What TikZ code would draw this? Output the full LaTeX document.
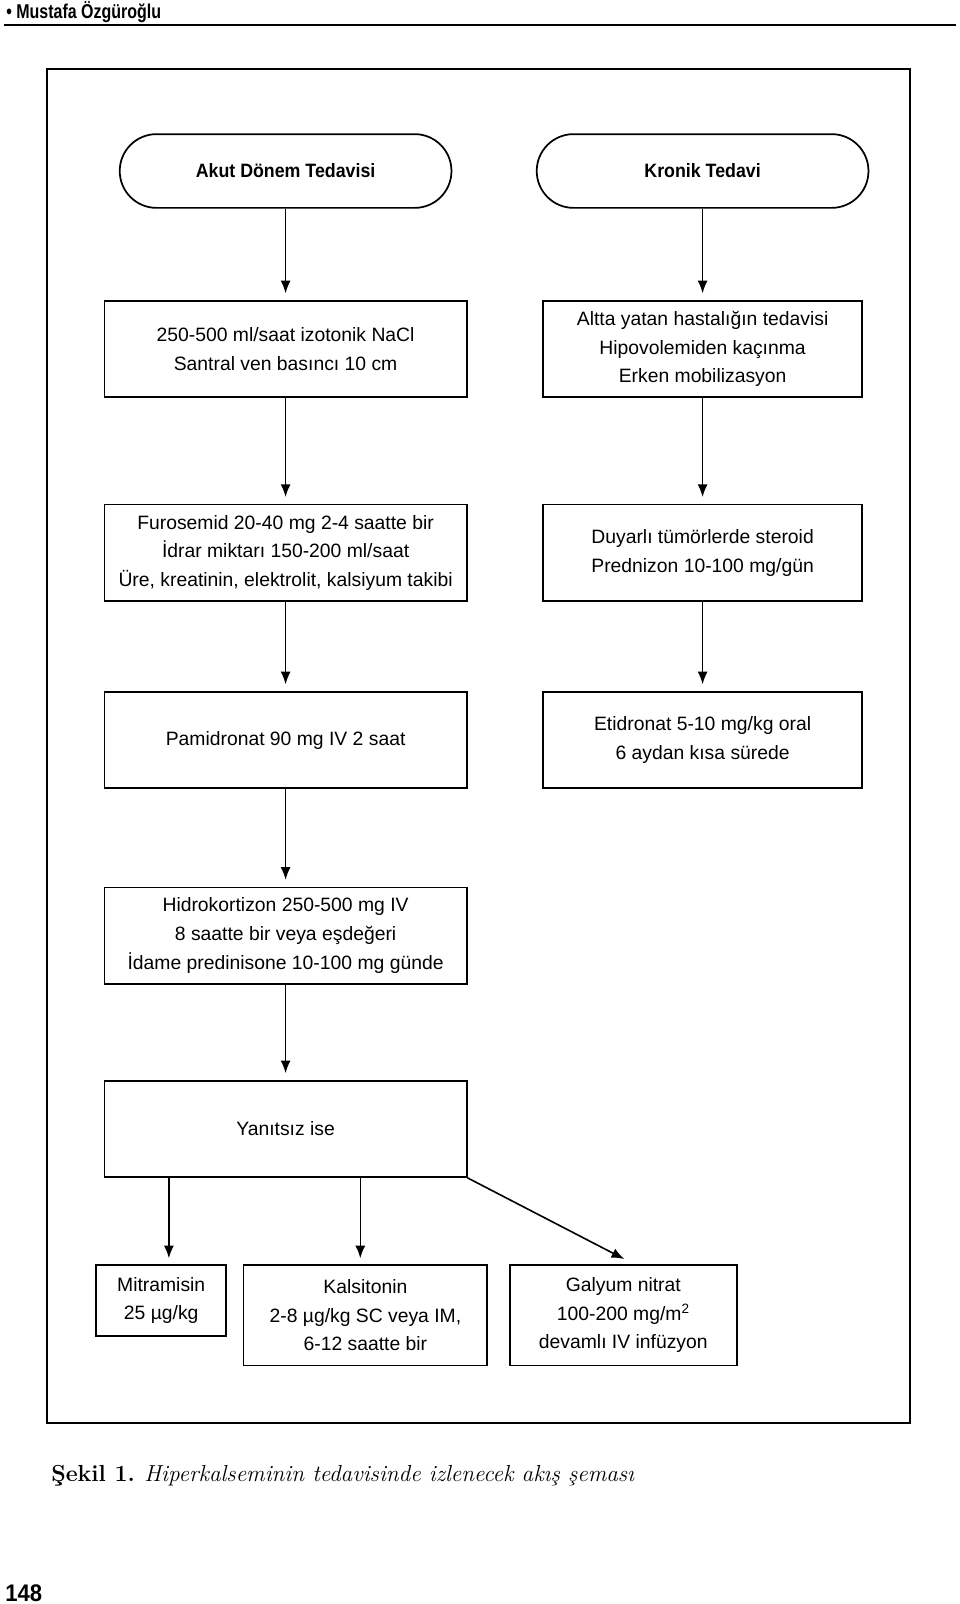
\documentclass[tikz,border=0pt]{standalone}
\usepackage{fontspec}
\newfontfamily\cond{Liberation Sans}
\newfontfamily\condb[FakeStretch=0.92]{Liberation Sans}
\newfontfamily\hdrf[FakeStretch=0.8]{Liberation Sans}
\newfontfamily\pgf[FakeStretch=0.92]{Liberation Sans}
\usetikzlibrary{arrows.meta,calc}
\tikzset{
  box/.style={draw, line width=1.3pt, align=center, inner sep=2pt,
    font=\cond\fontsize{14.5}{21.5}\selectfont},
  lbox/.style={box, minimum width=271.7pt, minimum height=72.2pt},
  rbox/.style={box, minimum width=239.6pt, minimum height=72.2pt},
  term/.style={draw, line width=1.3pt, rounded corners=27.6pt, minimum width=248.8pt,
    minimum height=55.3pt, font=\condb\bfseries\fontsize{14.5}{17}\selectfont},
  arr/.style={line width=1.2pt, -{Latex[length=9.5pt,width=7.5pt]}, shorten >=5pt},
}
\begin{document}
\begin{tikzpicture}[x=0.75pt,y=-0.75pt]
\useasboundingbox (0,0) rectangle (960,1604);
% header
\node[anchor=west, inner sep=0pt, font=\hdrf\bfseries\fontsize{15}{17}\selectfont] (hdr) at (6,12.3) {• Mustafa Özgüroğlu};
\draw[line width=1.5pt] (4,24.6) -- (956,24.6);
% frame
\draw[line width=1.6pt] (47.1,68.6) rectangle (909.9,1422.7);
% terminals
\node[term] (akut) at (285.6,171) {Akut Dönem Tedavisi};
\node[term] (kron) at (702.6,171) {Kronik Tedavi};
% left column
\node[lbox] (l1) at (285.6,349) {250-500 ml/saat izotonik NaCl\\Santral ven basıncı 10 cm};
\node[lbox] (l2) at (285.6,552.7) {Furosemid 20-40 mg 2-4 saatte bir\\İdrar miktarı 150-200 ml/saat\\Üre, kreatinin, elektrolit, kalsiyum takibi};
\node[lbox] (l3) at (285.6,740) {Pamidronat 90 mg IV 2 saat};
\node[lbox] (l4) at (285.6,935.5) {Hidrokortizon 250-500 mg IV\\8 saatte bir veya eşdeğeri\\İdame predinisone 10-100 mg günde};
\node[lbox] (l5) at (285.6,1128.9) {Yanıtsız ise};
% right column
\node[rbox] (r1) at (702.6,349) {Altta yatan hastalığın tedavisi\\Hipovolemiden kaçınma\\Erken mobilizasyon};
\node[rbox] (r2) at (702.6,552.7) {Duyarlı tümörlerde steroid\\Prednizon 10-100 mg/gün};
\node[rbox] (r3) at (702.6,740) {Etidronat 5-10 mg/kg oral\\6 aydan kısa sürede};
% bottom row
\node[box, minimum width=97.5pt, minimum height=53pt] (b1) at (161.2,1300.4) {Mitramisin\\25 µg/kg};
\node[box, minimum width=182.7pt, minimum height=75.3pt] (b2) at (365.4,1315.2) {Kalsitonin\\2-8 µg/kg SC veya IM,\\6-12 saatte bir};
\node[box, minimum width=170.4pt, minimum height=75.3pt] (b3) at (623.3,1315.2) {Galyum nitrat\\100-200 mg/m\textsuperscript{2}\\devamlı IV infüzyon};
% connectors
\draw[arr] (akut) -- (l1);
\draw[arr] (l1) -- (l2);
\draw[arr] (l2) -- (l3);
\draw[arr] (l3) -- (l4);
\draw[arr] (l4) -- (l5);
\draw[arr] (kron) -- (r1);
\draw[arr] (r1) -- (r2);
\draw[arr] (r2) -- (r3);
\coordinate (t1) at (168.9,1265);
\coordinate (t2) at (360.3,1265);
\coordinate (t3) at (630.2,1262.1);
\draw[arr] (l5.south -| t1) -- (t1);
\draw[arr] (l5.south -| t2) -- (t2);
\draw[arr] (l5.south east) -- (t3);
% caption
\node[anchor=base west, inner sep=0pt, font=\fontsize{17.4}{20}\selectfont] (cap) at (51,1481) {\textbf{Şekil 1.} \textit{Hiperkalseminin tedavisinde izlenecek akış şeması}};
\node[anchor=base west, inner sep=0pt, font=\pgf\bfseries\fontsize{18}{20}\selectfont] (pg) at (5,1601) {148};
\end{tikzpicture}
\end{document}
